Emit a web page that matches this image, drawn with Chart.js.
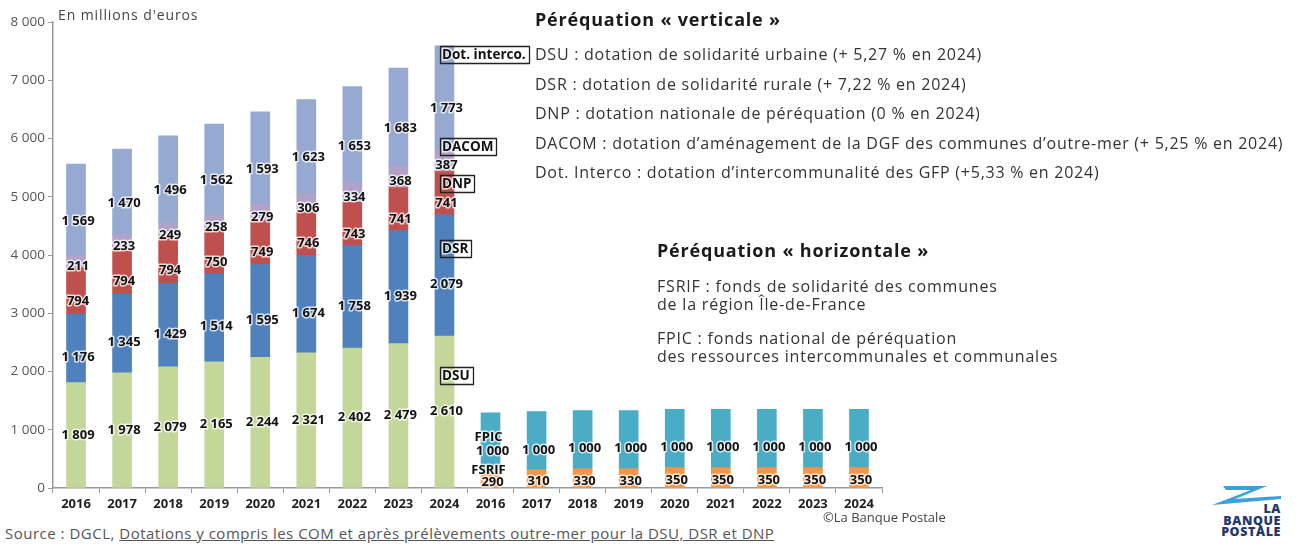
<!DOCTYPE html>
<html lang="fr">
<head>
<meta charset="utf-8">
<script src="https://cdn.jsdelivr.net/npm/chart.js@4.4.0/dist/chart.umd.min.js"></script>
<style>
  body { margin: 0; width: 1299px; height: 544px; background: #fff; position: relative; overflow: hidden; font-family: "Open Sans", sans-serif; color: #333; }
  #wrap { position: absolute; left: 0; top: 0; width: 890px; height: 522px; }
  .unit { position: absolute; left: 58px; top: 6px; font-size: 14px; letter-spacing: 0.9px; line-height: 18px; color: #444; }
  .legend { position: absolute; left: 535px; top: 7px; }
  .legend h2 { margin: 0 0 9px 0; font-size: 18px; line-height: 24px; letter-spacing: 0.8px; font-weight: 700; color: #1a1a1a; }
  .legend p { margin: 0; font-size: 16px; line-height: 29.6px; letter-spacing: 0.75px; color: #333; white-space: nowrap; }
  .horiz { position: absolute; left: 657px; top: 238px; }
  .horiz h2 { margin: 0 0 15px 0; font-size: 18px; line-height: 24px; letter-spacing: 0.8px; font-weight: 700; color: #1a1a1a; }
  .horiz p { margin: 0 0 16px 0; font-size: 16px; line-height: 18px; letter-spacing: 0.8px; color: #333; white-space: nowrap; }
  .source { position: absolute; left: 5px; top: 524px; font-size: 15px; line-height: 18px; letter-spacing: 0.5px; color: #555; white-space: nowrap; }
  .source span { text-decoration: underline; }
  .copy { position: absolute; left: 823px; top: 509px; font-size: 13px; line-height: 16px; color: #444; }
  .logo { position: absolute; left: 1210px; top: 485px; width: 80px; height: 56px; }
</style>
</head>
<body>
<div id="wrap"><canvas id="chart"></canvas></div>
<div class="unit">En millions d'euros</div>

<div class="legend">
  <h2>Péréquation « verticale »</h2>
  <p>DSU : dotation de solidarité urbaine (+ 5,27 % en 2024)</p>
  <p>DSR : dotation de solidarité rurale (+ 7,22 % en 2024)</p>
  <p>DNP : dotation nationale de péréquation (0 % en 2024)</p>
  <p>DACOM : dotation d’aménagement de la DGF des communes d’outre-mer (+ 5,25 % en 2024)</p>
  <p>Dot. Interco : dotation d’intercommunalité des GFP (+5,33 % en 2024)</p>
</div>

<div class="horiz">
  <h2>Péréquation « horizontale »</h2>
  <p>FSRIF : fonds de solidarité des communes<br>de la région Île-de-France</p>
  <p>FPIC : fonds national de péréquation<br>des ressources intercommunales et communales</p>
</div>

<div class="source">Source : DGCL, <span>Dotations y compris les COM et après prélèvements outre-mer pour la DSU, DSR et DNP</span></div>
<div class="copy">©La Banque Postale</div>

<svg class="logo" viewBox="0 0 80 56">
  <polygon points="13,1 57,1 25,14 71,11 71,14 2,20 41,5 16,5" fill="#3c9fe0"/>
  <g font-family="Open Sans, sans-serif" font-weight="800" font-size="12.5" fill="#22386e" text-anchor="end" letter-spacing="0.6">
    <text x="71" y="28">LA</text>
    <text x="71" y="40">BANQUE</text>
    <text x="71" y="51">POSTALE</text>
  </g>
</svg>

<script>
// Years shown twice: vertical then horizontal equalisation
const years = ['2016', '2017', '2018', '2019', '2020', '2021', '2022', '2023', '2024'];

// Péréquation verticale (millions d'euros)
const dsu = [1809, 1978, 2079, 2165, 2244, 2321, 2402, 2479, 2610];
const dsr = [1176, 1345, 1429, 1514, 1595, 1674, 1758, 1939, 2079];
const dnp = [794, 794, 794, 750, 749, 746, 743, 741, 741];
const dacom = [211, 233, 249, 258, 279, 306, 334, 368, 387];
const interco = [1569, 1470, 1496, 1562, 1593, 1623, 1653, 1683, 1773];

// Péréquation horizontale
const fsrif = [290, 310, 330, 330, 350, 350, 350, 350, 350];
const fpic = [1000, 1000, 1000, 1000, 1000, 1000, 1000, 1000, 1000];

const yTicks = [0, 1000, 2000, 3000, 4000, 5000, 6000, 7000, 8000];

const labels = years.concat(years);
const empty = years.map(() => null);
const left = arr => arr.concat(empty);
const right = arr => empty.concat(arr);

function fmt(v) {
    return String(v).replace(/\B(?=(\d{3})+(?!\d))/g, ' ');
}

function ds(label, data, color, dy) {
    return { label: label, data: data, backgroundColor: color, stack: 's', labelDy: dy };
}

const datasets = [
    ds('DSU', left(dsu), '#c4d79b', 0),
    ds('DSR', left(dsr), '#4f81bd', 9),
    ds('DNP', left(dnp), '#c0504d', 10),
    ds('DACOM', left(dacom), '#b3a2c7', 5),
    ds('Dot. interco.', left(interco), '#95a9d1', 11),
    ds('FSRIF', right(fsrif), '#f79646', 3),
    ds('FPIC', right(fpic), '#4bacc6', 9)
];

function drawText(ctx, txt, x, y) {
    ctx.lineWidth = 3;
    ctx.strokeStyle = 'rgba(255,255,255,0.75)';
    ctx.strokeText(txt, x, y);
    ctx.fillStyle = '#111';
    ctx.fillText(txt, x, y);
}

// value labels + boxed series names next to the 2024 bar
const labelPlugin = {
    id: 'labels',
    afterDatasetsDraw(chart) {
        const ctx = chart.ctx;
        ctx.save();
        ctx.font = '700 13px "Open Sans"';
        ctx.textAlign = 'center';
        ctx.textBaseline = 'middle';
        ctx.lineJoin = 'round';
        chart.data.datasets.forEach((d, i) => {
            const meta = chart.getDatasetMeta(i);
            meta.data.forEach((bar, j) => {
                const v = d.data[j];
                if (v == null) return;
                drawText(ctx, fmt(v), bar.x + 2, (bar.y + bar.base) / 2 + d.labelDy);
            });
        });

        // boxes on the last vertical bar
        const last = years.length - 1;
        const bar = k => chart.getDatasetMeta(k).data[last];
        const boxes = [
            ['Dot. interco.', bar(4).y],
            ['DACOM', bar(3).y - 11],
            ['DNP', bar(2).y + 3],
            ['DSR', bar(1).y + 25],
            ['DSU', bar(0).y + 31]
        ];
        ctx.font = '700 13.5px "Open Sans"';
        ctx.textAlign = 'left';
        boxes.forEach(b => {
            const x = Math.round(bar(0).x - 4);
            const y = Math.round(b[1]);
            const w = Math.round(ctx.measureText(b[0]).width + 5);
            drawText(ctx, b[0], x + 2, y + 9);
            ctx.strokeStyle = '#222';
            ctx.lineWidth = 1.3;
            ctx.strokeRect(x + 0.5, y + 0.5, w, 17);
        });

        // series names above the first horizontal bar
        ctx.font = '700 13px "Open Sans"';
        ctx.textAlign = 'center';
        const f = chart.getDatasetMeta(6).data[years.length];
        const s = chart.getDatasetMeta(5).data[years.length];
        drawText(ctx, 'FPIC', f.x - 2, (f.y + f.base) / 2 - 5);
        drawText(ctx, 'FSRIF', s.x - 2, s.y - 1);
        ctx.restore();
    }
};

new Chart(document.getElementById('chart'), {
    type: 'bar',
    data: { labels: labels, datasets: datasets },
    plugins: [labelPlugin],
    options: {
        responsive: true,
        maintainAspectRatio: false,
        animation: false,
        layout: { padding: { top: 22, right: 8, left: 0, bottom: 0 } },
        datasets: { bar: { barThickness: 19, skipNull: false } },
        plugins: { legend: { display: false }, tooltip: { enabled: false } },
        scales: {
            x: {
                stacked: true,
                offset: true,
                grid: { display: true, drawOnChartArea: false, offset: true, tickLength: 5, color: '#999' },
                border: { color: '#999', width: 1.5 },
                ticks: { color: '#222', font: { family: 'Open Sans', size: 13, weight: '700' }, padding: 3, maxRotation: 0, autoSkip: false },
                afterFit(scale) { scale.height = 34; }
            },
            y: {
                stacked: true,
                min: 0,
                max: 8000,
                afterBuildTicks(scale) { scale.ticks = yTicks.map(v => ({ value: v })); },
                grid: { display: true, drawOnChartArea: false, tickLength: 5, color: '#999' },
                border: { color: '#999', width: 1.5 },
                ticks: { color: '#555', font: { family: 'Open Sans', size: 13.5 }, padding: 3, callback: v => fmt(v) },
                afterFit(scale) { scale.width = 53; }
            }
        }
    }
});
</script>
</body>
</html>
